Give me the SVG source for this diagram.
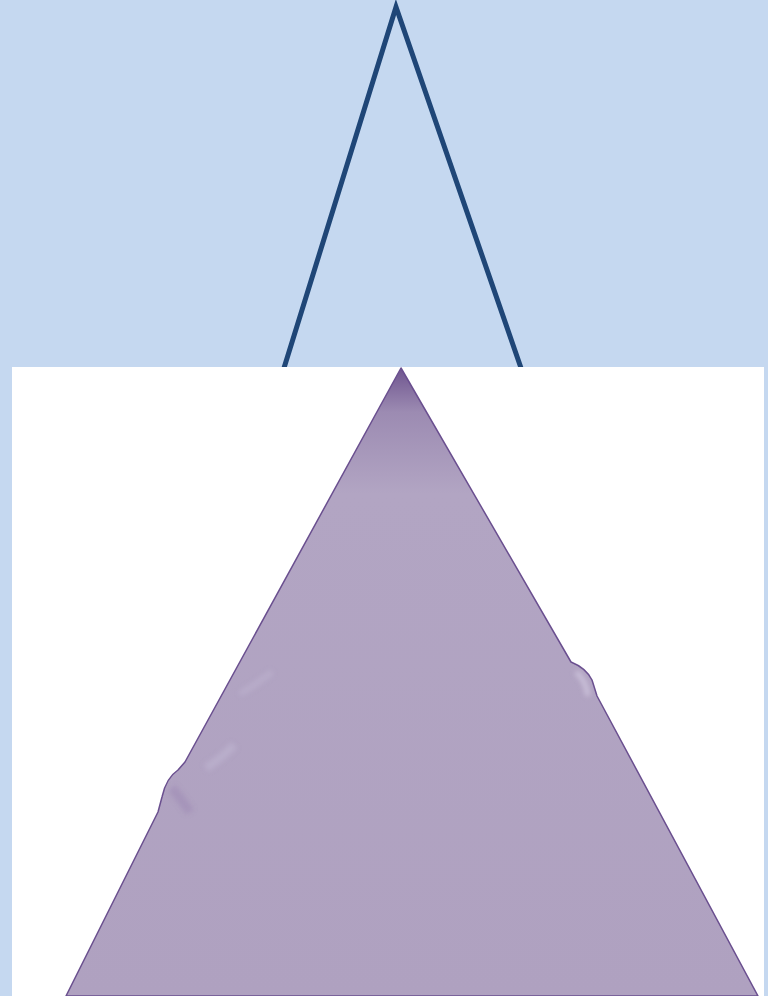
<svg xmlns="http://www.w3.org/2000/svg" width="768" height="996" viewBox="0 0 768 996">
<defs>
<linearGradient id="pg" x1="0" y1="368" x2="0" y2="996" gradientUnits="userSpaceOnUse">
<stop offset="0" stop-color="#6f558f"/>
<stop offset="0.07" stop-color="#9c8bb2"/>
<stop offset="0.2" stop-color="#b2a5c3"/>
<stop offset="1" stop-color="#afa1c0"/>
</linearGradient>
<filter id="soft" x="-20%" y="-20%" width="140%" height="140%"><feGaussianBlur stdDeviation="2.5"/></filter>
</defs>
<rect x="0" y="0" width="768" height="996" fill="#c5d8f0"/>
<g id="lines">
<polyline points="284,368 396,7 521,368" fill="none" stroke="#1f4677" stroke-width="5" stroke-linejoin="miter"/>
</g>
<rect x="12" y="367" width="752" height="629" fill="#ffffff"/>
<g id="pyramid">
<path d="M401,368 L571,662 Q586,668 592,680 L597,696 L758,996 L66,996 L158,812 L162,797 Q166,778 178,770 L185,762 Z" fill="url(#pg)" stroke="#6a4f8f" stroke-width="1.5" stroke-linejoin="round"/>
<g filter="url(#soft)">
<path d="M576,672 Q586,680 588,696" fill="none" stroke="#d6cde2" stroke-width="5" opacity="0.7"/>
<path d="M234,745 Q222,758 206,768" fill="none" stroke="#c6bcd6" stroke-width="8" opacity="0.45"/>
<path d="M272,672 Q257,684 240,694" fill="none" stroke="#c6bcd6" stroke-width="6" opacity="0.4"/>
<path d="M172,788 Q182,800 190,812" fill="none" stroke="#9580b0" stroke-width="9" opacity="0.4"/>
</g>
</g>
</svg>
